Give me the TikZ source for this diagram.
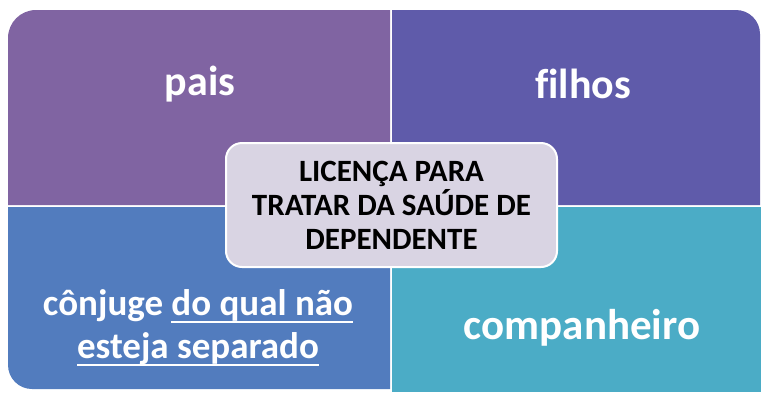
\documentclass[tikz,border=0pt]{standalone}
\usepackage{fontspec}
\setmainfont[Ligatures=NoCommon]{Carlito}
\definecolor{cTL}{HTML}{8064A2}
\definecolor{cTR}{HTML}{5F5BAA}
\definecolor{cBL}{HTML}{527CBE}
\definecolor{cBR}{HTML}{4BACC6}
\definecolor{cMid}{HTML}{D9D4E3}
\newcommand\myul[1]{\leavevmode\setbox0=\hbox{#1}\rlap{\copy0}\rule[-7pt]{\wd0}{2pt}}
\tikzset{
  qtext/.style={text=white,font=\bfseries\fontsize{42}{46}\selectfont,align=center},
  midbox/.style={fill=cMid,draw=white,line width=2pt,rounded corners=16pt},
  midtext/.style={text=black,font=\bfseries\fontsize{31}{34}\selectfont,align=center}
}
\begin{document}
\begin{tikzpicture}[x=1pt,y=-1pt]
\useasboundingbox (0,0) rectangle (761,392);
% top-left
\fill[cTL] (8,38) arc[start angle=180,end angle=90,radius=28pt] -- (390,10) -- (390,205) -- (8,205) -- cycle;
% top-right
\fill[cTR] (392,10) -- (736,10) arc[start angle=90,end angle=0,radius=24pt] -- (760,205) -- (392,205) -- cycle;
% bottom-left
\fill[cBL] (8,207) -- (390,207) -- (390,389) -- (32,389) arc[start angle=270,end angle=180,radius=24pt] -- cycle;
% bottom-right
\fill[cBR] (392,207) rectangle (761,392);
\node[qtext] (pais) at (200,84) {pais};
\node[qtext] (filhos) at (583,84) {filhos};
\node[qtext,font=\bfseries\fontsize{37}{43}\selectfont] (conj) at (198,328) {cônjuge \myul{do qual não}\\\myul{esteja separado}};
\node[qtext,font=\bfseries\fontsize{43}{46}\selectfont] (comp) at (582,328) {companheiro};
\node[midbox,minimum width=331pt,minimum height=124pt] (mid) at (391.5,205) {};
\node[midtext] (midt) at (mid.center) {LICENÇA PARA\\TRATAR DA SAÚDE DE\\DEPENDENTE};
\end{tikzpicture}
\end{document}
